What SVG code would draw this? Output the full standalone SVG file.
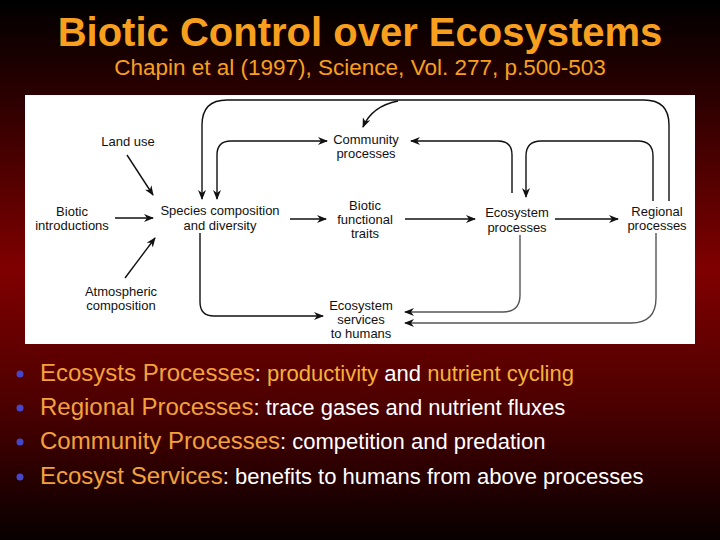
<svg xmlns="http://www.w3.org/2000/svg" width="720" height="540" viewBox="0 0 720 540">
<defs>
<linearGradient id="bg" x1="0" y1="0" x2="0" y2="1">
<stop offset="0" stop-color="#000000"/>
<stop offset="0.18" stop-color="#2c0000"/>
<stop offset="0.5" stop-color="#800000"/>
<stop offset="0.75" stop-color="#4c0000"/>
<stop offset="1" stop-color="#080000"/>
</linearGradient>
<marker id="ah" viewBox="0 0 10 8" refX="9" refY="4" markerWidth="10" markerHeight="8" markerUnits="userSpaceOnUse" orient="auto-start-reverse">
<path d="M0,0 L10,4 L0,8 L3,4 z" fill="#111"/>
</marker>
<style>
.dt{font-family:"Liberation Sans",Arial,sans-serif;font-size:13px;fill:#111;text-anchor:middle}
.cn{fill:none;stroke:#111;stroke-width:1.4}
.cg{fill:none;stroke:#555;stroke-width:1.4}
.lb{font-family:"Liberation Sans",Arial,sans-serif;font-size:24px;fill:#f4a23c}
.ds{font-size:22px;fill:#ffffff}
.hl{fill:#f6b236}
.bul{fill:#4646c8}
</style>
</defs>
<rect x="0" y="0" width="720" height="540" fill="url(#bg)"/>
<g id="title">
<text x="360" y="46" font-family="Liberation Sans, Arial, sans-serif" font-size="40" font-weight="bold" fill="#f8a01e" text-anchor="middle">Biotic Control over Ecosystems</text>
<text x="360" y="75" font-family="Liberation Sans, Arial, sans-serif" font-size="22.5" fill="#f8a01e" text-anchor="middle">Chapin et al (1997), Science, Vol. 277, p.500-503</text>
</g>
<rect x="25" y="95" width="670" height="249" fill="#ffffff"/>
<g id="connectors">
<path class="cn" d="M127,155 L153,195" marker-end="url(#ah)"/>
<path class="cn" d="M115,218 L153,218" marker-end="url(#ah)"/>
<path class="cn" d="M125,278 L155,238" marker-end="url(#ah)"/>
<path class="cn" d="M290,219 L326,219" marker-end="url(#ah)"/>
<path class="cn" d="M405,219 L475,219" marker-end="url(#ah)"/>
<path class="cn" d="M555,219 L618,219" marker-end="url(#ah)"/>
<path class="cn" d="M217,199 L217,155 Q217,141 231,141 L327,141" marker-start="url(#ah)" marker-end="url(#ah)"/>
<path class="cn" d="M669,201 L669,125 Q669,100 644,100 L227,100 Q202,100 202,125 L202,199" marker-end="url(#ah)"/>
<path class="cn" d="M398,101 Q372,106 363,127" marker-end="url(#ah)"/>
<path class="cn" d="M512,193 L512,155 Q512,141 498,141 L411,141" marker-end="url(#ah)"/>
<path class="cn" d="M653,201 L653,156 Q653,141 638,141 L541,141 Q526,141 526,156 L526,197" marker-end="url(#ah)"/>
<path class="cn" d="M200,233 L200,302 Q200,316 214,316 L323,316" marker-end="url(#ah)"/>
<path class="cg" d="M520,235 L520,295 Q520,312 503,312 L405,312" marker-end="url(#ah)"/>
<path class="cg" d="M656,233 L656,298 Q656,323 631,323 L405,323" marker-end="url(#ah)"/>
</g>
<g id="land-use"><text class="dt" x="128" y="146">Land use</text></g>
<g id="biotic-introductions"><text class="dt" x="72" y="216">Biotic</text><text class="dt" x="72" y="230">introductions</text></g>
<g id="atmospheric-composition"><text class="dt" x="121" y="296">Atmospheric</text><text class="dt" x="121" y="310">composition</text></g>
<g id="species-composition"><text class="dt" x="220" y="215">Species composition</text><text class="dt" x="220" y="230">and diversity</text></g>
<g id="community-processes"><text class="dt" x="366" y="144">Community</text><text class="dt" x="366" y="158">processes</text></g>
<g id="biotic-traits"><text class="dt" x="365" y="210">Biotic</text><text class="dt" x="365" y="224">functional</text><text class="dt" x="365" y="238">traits</text></g>
<g id="ecosystem-processes"><text class="dt" x="517" y="217">Ecosystem</text><text class="dt" x="517" y="232">processes</text></g>
<g id="regional-processes"><text class="dt" x="657" y="216">Regional</text><text class="dt" x="657" y="230">processes</text></g>
<g id="ecosystem-services"><text class="dt" x="361" y="310">Ecosystem</text><text class="dt" x="361" y="324">services</text><text class="dt" x="361" y="338">to humans</text></g>
<g id="bullets">
<circle class="bul" cx="20" cy="374" r="3.5"/>
<circle class="bul" cx="20" cy="408" r="3.5"/>
<circle class="bul" cx="20" cy="442" r="3.5"/>
<circle class="bul" cx="20" cy="477" r="3.5"/>
<text class="lb" x="40" y="381">Ecosysts Processes<tspan class="ds">: </tspan><tspan class="ds hl">productivity</tspan><tspan class="ds"> and </tspan><tspan class="ds hl">nutrient cycling</tspan></text>
<text class="lb" x="40" y="415">Regional Processes<tspan class="ds">: trace gases and nutrient fluxes</tspan></text>
<text class="lb" x="40" y="449">Community Processes<tspan class="ds">: competition and predation</tspan></text>
<text class="lb" x="40" y="484">Ecosyst Services<tspan class="ds">: benefits to humans from above processes</tspan></text>
</g>
</svg>
